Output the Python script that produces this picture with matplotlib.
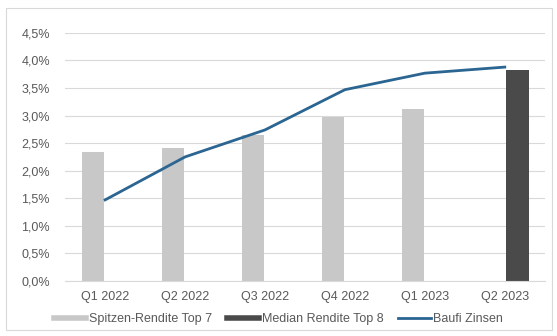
import numpy as np
import matplotlib
matplotlib.use("Agg")
from matplotlib import pyplot as plt
from matplotlib.patches import Rectangle
from matplotlib.lines import Line2D
from matplotlib.ticker import FuncFormatter

plt.rcParams["font.family"] = ["Liberation Sans", "DejaVu Sans"]

quarters = ["Q1 2022", "Q2 2022", "Q3 2022", "Q4 2022", "Q1 2023", "Q2 2023"]
spitzen_top7 = [2.34, 2.41, 2.65, 2.98, 3.12, np.nan]
median_top8 = [np.nan, np.nan, np.nan, np.nan, np.nan, 3.83]
baufi_zinsen = [1.47, 2.25, 2.74, 3.47, 3.77, 3.88]

grey = "#c8c8c8"
dark = "#4a4a4a"
blue = "#2b6592"
text_col = "#595959"

fig = plt.figure(figsize=(5.57, 3.36), dpi=100)
fig.patches.append(Rectangle((0.011, 0.018), 0.98, 0.958, transform=fig.transFigure,
                             fill=False, edgecolor="#d9d9d9", linewidth=0.8))
ax = fig.add_axes([0.117, 0.164, 0.861, 0.738])

x = np.arange(len(quarters))
w = 0.28
ax.bar(x - 0.15, spitzen_top7, width=w, color=grey, zorder=2)
ax.bar(x + 0.16, median_top8, width=w, color=dark, zorder=2)
ax.plot(x, baufi_zinsen, color=blue, linewidth=2, zorder=3)

ax.set_xlim(-0.5, len(quarters) - 0.5)
ax.set_ylim(0, 4.5)
ax.set_yticks(np.arange(0, 4.51, 0.5))
ax.yaxis.set_major_formatter(FuncFormatter(lambda v, p: f"{v:.1f}%".replace(".", ",")))
ax.set_xticks(x)
ax.set_xticklabels(quarters)
ax.grid(axis="y", color="#d9d9d9", linewidth=0.8, zorder=0)
for s in ["top", "right", "left"]:
    ax.spines[s].set_visible(False)
ax.spines["bottom"].set_color("#d9d9d9")
ax.tick_params(axis="both", length=0, labelsize=9, labelcolor=text_col)
ax.tick_params(axis="y", pad=11)
ax.tick_params(axis="x", pad=7)

handles = [Line2D([], [], color=grey, linewidth=4),
           Line2D([], [], color=dark, linewidth=4),
           Line2D([], [], color=blue, linewidth=2)]
labels = ["Spitzen-Rendite Top 7", "Median Rendite Top 8", "Baufi Zinsen"]
fig.legend(handles, labels, loc="center", bbox_to_anchor=(0.5, 0.05), ncol=3, frameon=False,
           fontsize=9, labelcolor=text_col, handlelength=2.6, handletextpad=0.2, columnspacing=1.2)

fig.savefig("out.png", dpi=100)
